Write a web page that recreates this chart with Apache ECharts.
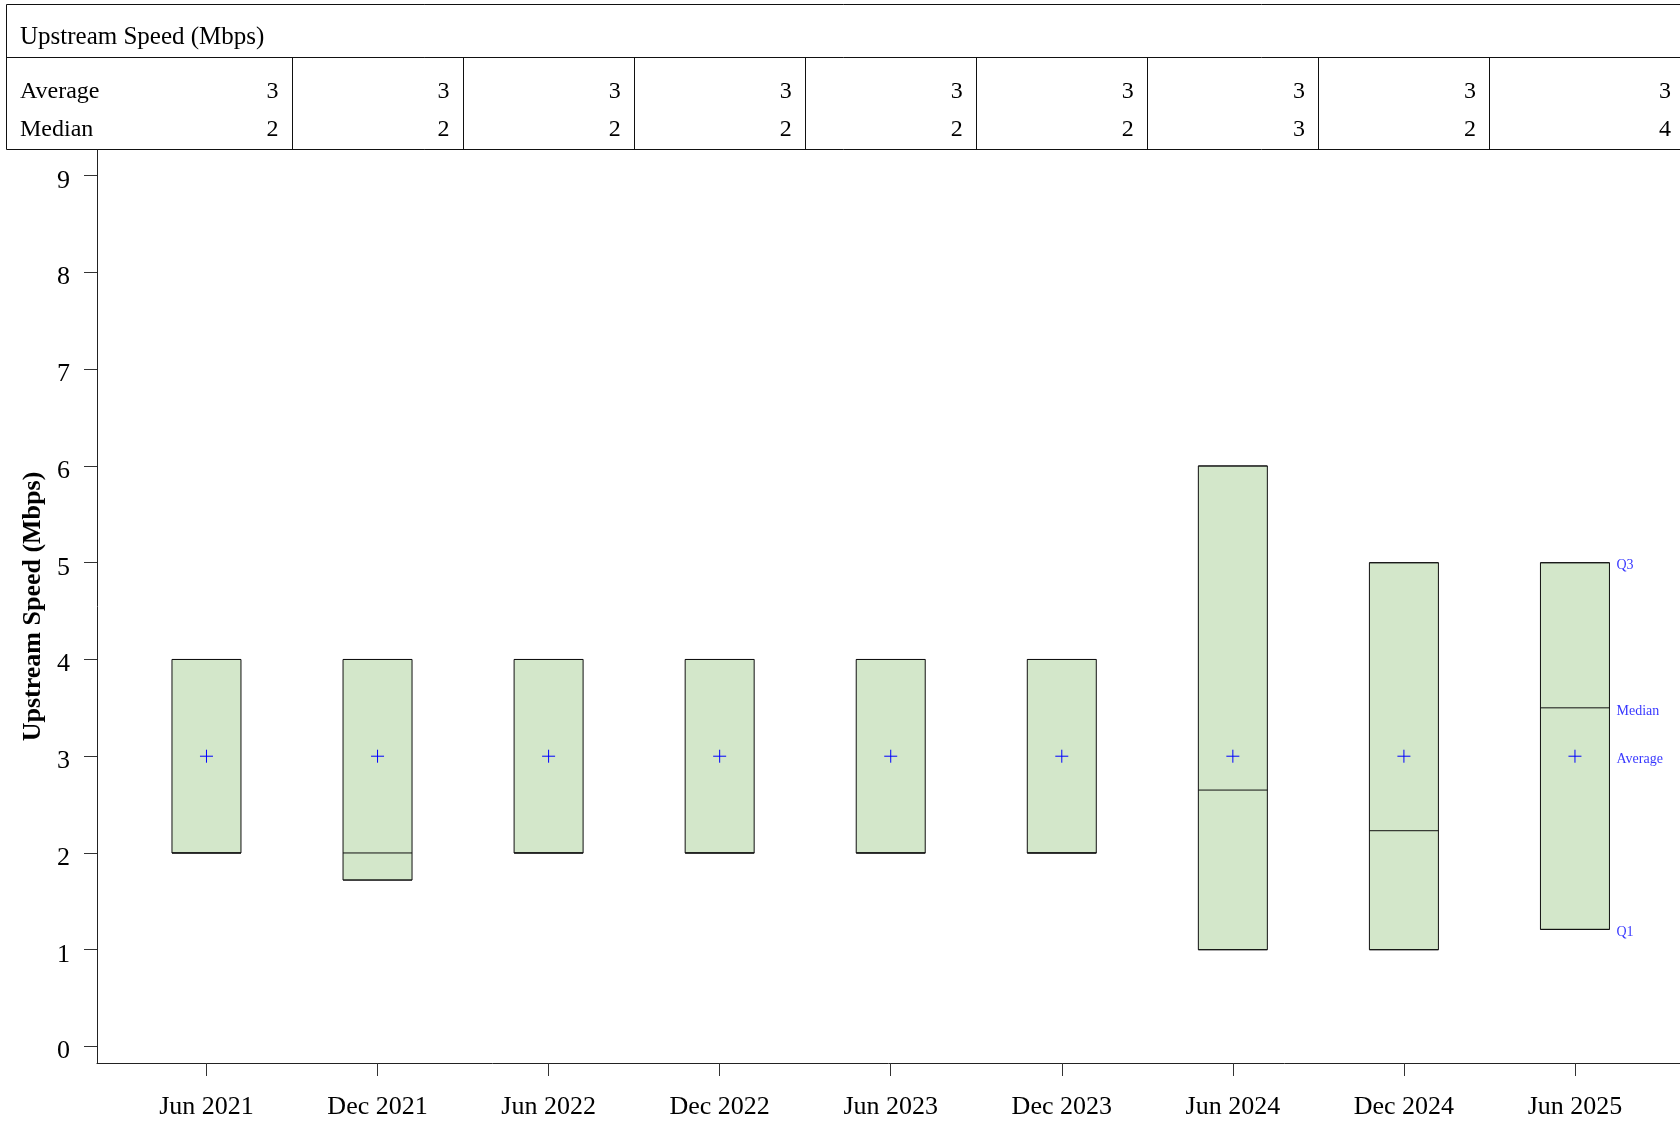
<!DOCTYPE html>
<html>
<head>
<meta charset="utf-8">
<script src="https://cdn.jsdelivr.net/npm/echarts@6/dist/echarts.min.js"></script>
<style>
html,body{margin:0;padding:0;background:#fff;}
#chart{width:1680px;height:1122px;}
</style>
</head>
<body>
<div id="chart"></div>
<script>
var periods = ['Jun 2021', 'Dec 2021', 'Jun 2022', 'Dec 2022', 'Jun 2023', 'Dec 2023', 'Jun 2024', 'Dec 2024', 'Jun 2025'];
var q1Values = [2, 1.72, 2, 2, 2, 2, 1, 1, 1.21];
var medianValues = [2, 2, 2, 2, 2, 2, 2.65, 2.23, 3.5];
var q3Values = [4, 4, 4, 4, 4, 4, 6, 5, 5];
var averageValues = [3, 3, 3, 3, 3, 3, 3, 3, 3];
var yTicks = [0, 1, 2, 3, 4, 5, 6, 7, 8, 9];
var tableTitle = 'Upstream Speed (Mbps)';
var rowNames = ['Average', 'Median'];

var serif = '"Liberation Serif", "Times New Roman", serif';
var blue = '#0000ff';

var boxData = [];
for (var i = 0; i < periods.length; i++) {
    // no whiskers: min = Q1, max = Q3
    boxData.push([i, q1Values[i], q1Values[i], medianValues[i], q3Values[i], q3Values[i]]);
}
var avgData = averageValues.map(function (v, i) { return [i, v]; });
var last = periods.length - 1;
var keyData = [
    { name: 'Q3', value: [last, q3Values[last]] },
    { name: 'Median', value: [last, medianValues[last]] },
    { name: 'Average', value: [last, averageValues[last]] },
    { name: 'Q1', value: [last, q1Values[last]] }
];

var myChart = echarts.init(document.getElementById('chart'));
myChart.setOption({
    animation: false,
    grid: { left: 97, right: 0, top: 150, bottom: 59, containLabel: false },
    xAxis: {
        type: 'value',
        min: -0.64,
        max: 8.614,
        splitLine: { show: false },
        axisLine: { onZero: false, lineStyle: { color: '#222', width: 1 } },
        axisTick: { length: 13, customValues: periods.map(function (p, i) { return i; }), lineStyle: { color: '#333' } },
        axisLabel: {
            customValues: periods.map(function (p, i) { return i; }),
            formatter: function (v) { return periods[Math.round(v)]; },
            fontFamily: serif, fontSize: 26, color: '#000', margin: 31
        }
    },
    yAxis: {
        type: 'value',
        min: -0.171,
        max: 9.266,
        name: 'Upstream Speed (Mbps)',
        nameLocation: 'middle',
        nameRotate: 90,
        nameGap: 51,
        nameTextStyle: { fontFamily: serif, fontSize: 26, fontWeight: 'bold', color: '#000' },
        splitLine: { show: false },
        axisLine: { show: true, onZero: false, lineStyle: { color: '#222', width: 1 } },
        axisTick: { show: true, length: 13, customValues: yTicks, lineStyle: { color: '#333' } },
        axisLabel: {
            customValues: yTicks,
            margin: 27,
            // nudge the digits a little below the tick, as in the original
            formatter: function (v) { return '{n|' + v + '}'; },
            rich: { n: { fontFamily: serif, fontSize: 26, color: '#000', padding: [10, 0, 0, 0] } }
        }
    },
    series: [{
        type: 'boxplot',
        layout: 'horizontal',
        data: boxData,
        boxWidth: [69, 69],
        itemStyle: { color: '#d3e7ca', borderColor: '#111', borderWidth: 1 },
        silent: true
    }, {
        type: 'scatter',
        data: avgData,
        symbol: 'path://M0,6.5L13,6.5M6.5,0L6.5,13',
        symbolSize: 13,
        itemStyle: { color: 'none', borderColor: blue, borderWidth: 1, opacity: 1 },
        silent: true,
        z: 5
    }, {
        type: 'scatter',
        data: keyData,
        symbolSize: 1,
        itemStyle: { color: 'rgba(0,0,0,0)' },
        label: {
            show: true,
            position: 'right',
            distance: 41,
            offset: [0, 3],
            formatter: '{b}',
            fontFamily: serif,
            fontSize: 14,
            color: blue
        },
        silent: true
    }]
});

// summary table above the plot, columns lined up with the periods
function px(v) { return myChart.convertToPixel({ xAxisIndex: 0 }, v); }
var lineStyle = { stroke: '#111', lineWidth: 1 };
var tableLeft = 6.5, tableTop = 4.5, headerY = 57.5, tableBottom = 149.5;
var els = [
    { type: 'line', shape: { x1: tableLeft, y1: tableTop, x2: 1680, y2: tableTop }, style: lineStyle },
    { type: 'line', shape: { x1: tableLeft, y1: headerY, x2: 1680, y2: headerY }, style: lineStyle },
    { type: 'line', shape: { x1: tableLeft, y1: tableBottom, x2: 1680, y2: tableBottom }, style: lineStyle },
    { type: 'line', shape: { x1: tableLeft, y1: tableTop, x2: tableLeft, y2: tableBottom }, style: lineStyle },
    { type: 'text', style: { text: tableTitle, x: 20, y: 37, font: '25px ' + serif, fill: '#000', align: 'left', textAlign: 'left', verticalAlign: 'middle', textVerticalAlign: 'middle' } }
];
var rowY = [92, 130];
var rows = [averageValues, medianValues];
rowNames.forEach(function (n, r) {
    els.push({ type: 'text', style: { text: n, x: 20, y: rowY[r], font: '24px ' + serif, fill: '#000', align: 'left', textAlign: 'left', verticalAlign: 'middle', textVerticalAlign: 'middle' } });
});
for (var c = 0; c < periods.length; c++) {
    var right = c < last ? px(c + 0.5) : px(c + 0.5) + 195;
    if (c < last) {
        var sx = Math.round(right) + 0.5;
        els.push({ type: 'line', shape: { x1: sx, y1: headerY, x2: sx, y2: tableBottom }, style: lineStyle });
    }
    var tx = c < last ? right - 13.5 : px(c) + 96;
    for (var r = 0; r < rows.length; r++) {
        els.push({ type: 'text', style: { text: String(Math.round(rows[r][c])), x: tx, y: rowY[r], font: '24px ' + serif, fill: '#000', align: 'right', textAlign: 'right', verticalAlign: 'middle', textVerticalAlign: 'middle' } });
    }
}
myChart.setOption({ graphic: { elements: els } });
</script>
</body>
</html>
